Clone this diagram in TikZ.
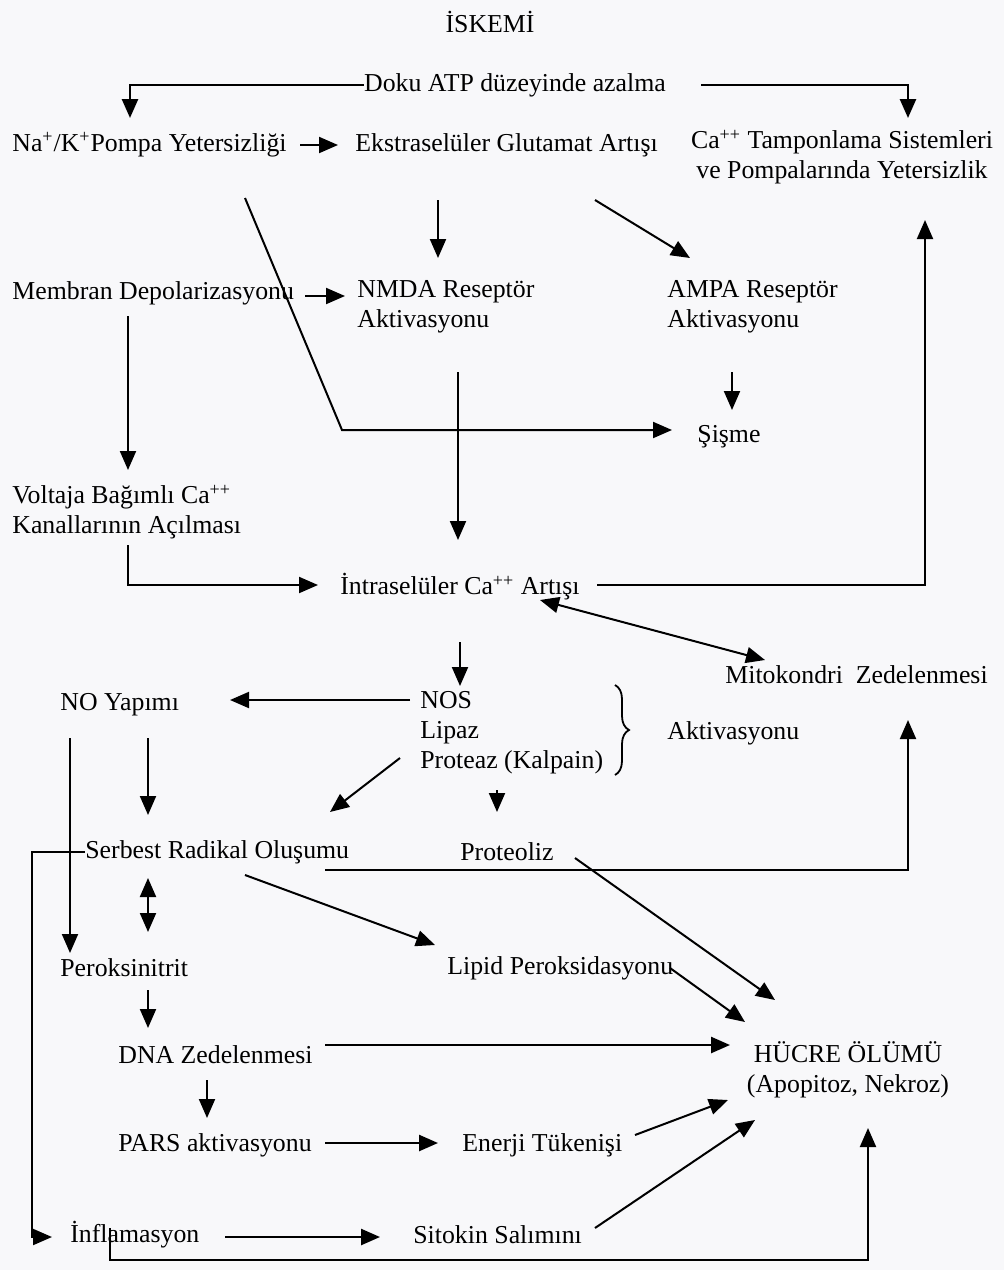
\documentclass[tikz,border=0pt]{standalone}
\usepackage{fontspec}
\setmainfont{Liberation Serif}
\usetikzlibrary{arrows.meta,calc,decorations.pathreplacing}

\begin{document}
\begin{tikzpicture}[x=0.5pt,y=-0.5pt,
    font=\fontsize{12.9}{15}\selectfont,
    lbl/.style={anchor=west,inner sep=0pt,align=left},
    ortala/.style={inner sep=0pt,align=center},
    arr/.style={-{Triangle[length=9.5pt,width=8pt]},line width=1pt},
    cift/.style={{Triangle[length=9.5pt,width=8pt]}-{Triangle[length=9.5pt,width=8pt]},line width=1pt},
    ince/.style={line width=0.7pt}]
    \useasboundingbox[fill={rgb,255:red,248;green,248;blue,250}] (0,0) rectangle (1004,1270);

    % kutusuz metinler
    \node[ortala] (iskemi) at (490,22) {İSKEMİ};
    \node[ortala] (atp) at (515,85) {Doku ATP düzeyinde azalma};
    \node[lbl] (nak) at (12,145) {Na\textsuperscript{+}/K\textsuperscript{+}Pompa Yetersizliği};
    \node[lbl] (glut) at (355,145) {Ekstraselüler Glutamat Artışı};
    \node[ortala] (tamp) at (842,157)
        {Ca\textsuperscript{++} Tamponlama Sistemleri\\ve Pompalarında Yetersizlik};
    \node[lbl] (memb) at (12,293) {Membran Depolarizasyonu};
    \node[lbl] (nmda) at (357,307) {NMDA Reseptör\\Aktivasyonu};
    \node[lbl] (ampa) at (667,307) {AMPA Reseptör\\Aktivasyonu};
    \node[lbl] (sisme) at (697,437) {Şişme};
    \node[lbl] (volt) at (12,512) {Voltaja Bağımlı Ca\textsuperscript{++}\\Kanallarının Açılması};
    \node[lbl] (intra) at (340,587) {İntraselüler Ca\textsuperscript{++} Artışı};
    \node[lbl] (mito) at (725,675) {Mitokondri\ \ Zedelenmesi};
    \node[lbl] (enzim) at (420,733) {NOS\\Lipaz\\Proteaz (Kalpain)};
    \node[lbl] (aktiv) at (667,733) {Aktivasyonu};
    \node[lbl] (noyap) at (60,705) {NO Yapımı};
    \node[lbl] (serbest) at (85,852) {Serbest Radikal Oluşumu};
    \node[lbl] (proteoliz) at (460,852) {Proteoliz};
    \node[lbl] (perok) at (60,968) {Peroksinitrit};
    \node[lbl] (lipid) at (447,968) {Lipid Peroksidasyonu};
    \node[lbl] (dna) at (118,1055) {DNA Zedelenmesi};
    \node[ortala] (hucre) at (848,1070) {HÜCRE ÖLÜMÜ\\(Apopitoz, Nekroz)};
    \node[lbl] (pars) at (118,1145) {PARS aktivasyonu};
    \node[lbl] (enerji) at (462,1145) {Enerji Tükenişi};
    \node[lbl] (inflam) at (70,1235) {İnflamasyon};
    \node[lbl] (sitokin) at (413,1235) {Sitokin Salımını};

    % ATP azalmasi
    \draw[arr,line width=1.3pt] (atp.west) -| ($(nak.west)+(118,-27)$);
    \draw[arr,line width=1.3pt] ($(atp.east)+(35,0)$) -| ($(tamp.center)+(66,-39)$);
    \draw[arr] ($(nak.west)+(288,0)$) -- ($(glut.west)+(-17,0)$);
    \draw[ince,arr] ($(nak.west)+(233,53)$) -- ($(sisme.west)+(-355,-7)$)
        -- ($(sisme.west)+(-25,-7)$);
    \draw[arr] ($(glut.west)+(83,55)$) -- ($(nmda.west)+(81,-49)$);
    \draw[arr] ($(glut.west)+(240,55)$) -- ($(ampa.west)+(23,-49)$);
    \draw[arr] ($(nmda.west)+(-52,-11)$) -- ($(nmda.west)+(-12,-11)$);
    \draw[arr] ($(ampa.west)+(65,65)$) -- ($(sisme.west)+(35,-27)$);
    \draw[arr] ($(memb.west)+(116,23)$) -- ($(volt.west)+(116,-42)$);
    \draw[arr] ($(nmda.west)+(101,65)$) -- ($(intra.west)+(118,-47)$);
    \draw[arr] ($(volt.west)+(116,33)$) |- ($(intra.west)+(-22,-2)$);
    \draw[arr] ($(intra.west)+(257,-2)$) -| ($(tamp.center)+(83,63)$);
    \draw[cift] ($(intra.west)+(200,13)$) -- ($(mito.west)+(40,-15)$);

    % enzim aktivasyonu
    \draw[arr] ($(intra.west)+(120,55)$) -- ($(enzim.west)+(40,-47)$);
    \draw[arr] ($(enzim.west)+(-10,-33)$) -- ($(noyap.west)+(170,-5)$);
    \draw[arr] ($(enzim.west)+(-20,25)$) -- ($(serbest.west)+(245,-40)$);
    \draw[arr] ($(enzim.west)+(77,57)$) -- ($(proteoliz.west)+(37,-40)$);
    \draw[line width=0.9pt,decorate,decoration={brace,amplitude=7pt}]
        ($(enzim.west)+(195,-48)$) -- ($(enzim.west)+(195,42)$);

    % serbest radikaller
    \draw[arr] ($(noyap.west)+(10,33)$) -- ($(perok.west)+(10,-15)$);
    \draw[arr] ($(noyap.west)+(88,33)$) -- ($(serbest.west)+(63,-37)$);
    \draw[arr] (serbest.west) -- ++(-53,0) |- ($(inflam.west)+(-18,2)$);
    \draw[cift] ($(serbest.west)+(63,26)$) -- ($(perok.west)+(88,-36)$);
    \draw[arr] ($(serbest.west)+(160,23)$) -- ($(lipid.west)+(-12,-23)$);
    \draw[arr] ($(serbest.west)+(240,18)$) -| ($(mito.west)+(183,45)$);

    % hucre olumu
    \draw[ince,arr] ($(proteoliz.west)+(115,6)$) -- ($(hucre.center)+(-73,-70)$);
    \draw[arr] ($(lipid.west)+(223,0)$) -- ($(hucre.center)+(-103,-48)$);
    \draw[arr,line width=1.3pt] ($(dna.west)+(207,-10)$) -- ($(hucre.center)+(-118,-25)$);
    \draw[arr] ($(perok.west)+(88,22)$) -- ($(dna.west)+(30,-27)$);
    \draw[arr] ($(dna.west)+(89,25)$) -- ($(pars.west)+(89,-27)$);
    \draw[arr,line width=1.3pt] ($(pars.west)+(207,-2)$) -- ($(enerji.west)+(-24,-2)$);
    \draw[arr] ($(enerji.west)+(173,-10)$) -- ($(hucre.center)+(-120,30)$);
    \draw[arr,line width=1.3pt] ($(inflam.west)+(155,2)$) -- ($(sitokin.west)+(-33,2)$);
    \draw[arr] ($(sitokin.west)+(182,-7)$) -- ($(hucre.center)+(-93,50)$);
    \draw[arr] ($(inflam.west)+(40,-7)$) -- ++(0,32) -| ($(hucre.center)+(20,58)$);
\end{tikzpicture}
\end{document}
